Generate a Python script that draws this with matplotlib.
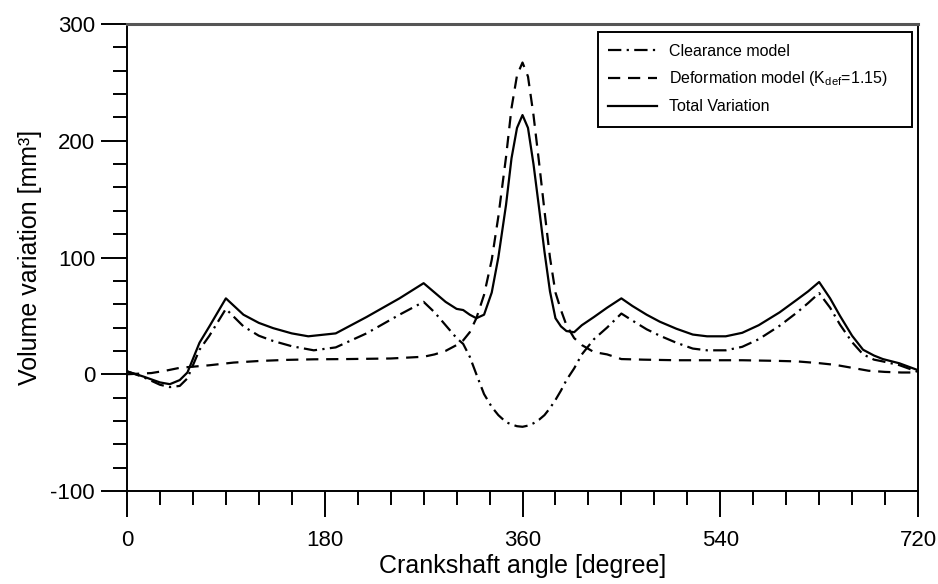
import matplotlib
matplotlib.use("Agg")
import matplotlib.pyplot as plt
from matplotlib.patches import Rectangle
from matplotlib.ticker import MultipleLocator

plt.rcParams['font.family'] = ['Liberation Sans', 'DejaVu Sans']
plt.rcParams['mathtext.fontset'] = 'custom'
plt.rcParams['mathtext.rm'] = 'Liberation Sans'
plt.rcParams['mathtext.it'] = 'Liberation Sans:italic'
plt.rcParams['axes.unicode_minus'] = False

# crank angle [deg] and volume variation [mm^3]
angle_cl = [0, 15, 30, 39, 48, 55, 66, 75, 90, 106, 120, 133, 150, 170, 190, 218, 248, 270,
            280, 290, 300, 306, 312, 318, 325, 332, 338, 345, 350, 355, 360, 365, 370, 375,
            380, 385, 390, 395, 400, 407, 414, 425, 437, 450, 460, 473, 485, 500, 515, 528,
            545, 560, 575, 594, 610, 620, 630, 640, 649, 660, 670, 680, 688, 703, 720]
clearance = [2.5, -2.5, -9, -11, -10, -3.5, 21, 33, 56, 41, 33, 28.5, 24, 20.5, 23, 35, 51, 62,
             53, 42, 31, 26, 15, 0, -17, -28, -35, -41, -43, -44.5, -45, -44, -42, -39,
             -35, -29, -22, -14, -5, 5, 17, 30, 40, 52, 46, 38.5, 33, 27, 22, 20.5,
             20.5, 23.5, 30, 41.5, 53, 61, 69.5, 57, 42.5, 27.5, 17, 12.5, 11, 7.8, 2]

angle_def = [0, 22, 35, 48, 75, 97, 121, 145, 170, 200, 240, 270, 280, 290, 300, 306, 312, 318,
             325, 332, 338, 345, 350, 355, 360, 365, 370, 375, 380, 385, 390, 395, 400, 407,
             414, 425, 437, 450, 470, 500, 530, 560, 590, 610, 630, 645, 660, 675, 690, 705, 720]
deformation = [0, 1, 3, 5.5, 7.7, 10, 11.4, 12.3, 12.8, 13, 13.5, 15, 17, 20, 25, 29, 36, 48,
               68, 98, 135, 186, 228, 256, 267, 255, 222, 182, 140, 100, 70, 55, 42, 31,
               25, 19, 17, 13, 12.5, 12, 12, 12, 11.5, 11, 9.5, 8, 5.5, 3, 2, 1.5, 1.5]

angle_tot = [0, 15, 30, 39, 48, 55, 66, 75, 90, 106, 120, 133, 150, 165, 190, 218, 248, 270,
             280, 290, 300, 306, 312, 318, 325, 332, 338, 345, 350, 355, 360, 365, 370, 375,
             380, 385, 390, 395, 400, 407, 414, 425, 437, 450, 460, 473, 485, 500, 515, 528,
             545, 560, 575, 594, 610, 620, 630, 640, 649, 660, 670, 680, 688, 703, 720]
total = [2.5, -2, -7, -8.5, -5, 1.5, 27, 41, 65, 51, 44, 39.5, 35, 32.5, 35, 49, 65, 78,
         70, 62, 56, 55, 51, 48, 51, 70, 100, 145, 185, 211, 222, 211, 180, 143,
         105, 71, 48, 41, 37, 36, 42, 49, 57, 65, 58.5, 51, 45, 39, 34, 32.5,
         32.5, 35.5, 42, 53, 64, 71, 79, 65, 50, 33, 21, 16, 13, 9.4, 3.5]

W, H = 938, 584
fig = plt.figure(figsize=(W / 100, H / 100), dpi=100)
ax = fig.add_axes([127 / W, 1 - 491 / H, 791 / W, 467 / H])

lw = 1.6
ax.plot(angle_cl, clearance, color='black', lw=lw, dashes=[6, 2.4, 1, 2.4],
        label='Clearance model')
ax.plot(angle_def, deformation, color='black', lw=lw, dashes=[5.5, 3.5],
        label=r'Deformation model (K$_{\mathrm{def}}$=1.15)')
ax.plot(angle_tot, total, color='black', lw=lw, label='Total Variation')

ax.set_xlim(0, 720)
ax.set_ylim(-100, 300)
ax.xaxis.set_major_locator(MultipleLocator(180))
ax.xaxis.set_minor_locator(MultipleLocator(30))
ax.yaxis.set_major_locator(MultipleLocator(100))
ax.yaxis.set_minor_locator(MultipleLocator(20))
ax.tick_params(which='major', direction='out', length=19, width=1.4, labelsize=16)
ax.tick_params(which='minor', direction='out', length=10, width=1.4)
ax.tick_params(axis='x', which='major', pad=9)
ax.tick_params(axis='y', which='major', pad=4)

for side in ['left', 'bottom', 'right']:
    ax.spines[side].set_linewidth(1.4)
ax.spines['top'].set_linewidth(2.2)
ax.spines['top'].set_color('#555555')

ax.set_xlabel('Crankshaft angle [degree]', fontsize=18, labelpad=2)
ax.set_ylabel('Volume variation [mm³]', fontsize=18)
ax.yaxis.set_label_coords(-0.108, 0.5)

# legend box drawn separately so the inner padding matches the original
fig.patches.append(Rectangle((598 / W, 1 - 127 / H), 314 / W, 95 / H,
                             transform=fig.transFigure, fill=False,
                             edgecolor='black', linewidth=1.4))
leg = ax.legend(loc='upper left', bbox_to_anchor=(598 / W, 1 - 34 / H),
                bbox_transform=fig.transFigure, fontsize=11.5, handlelength=3.1,
                frameon=False, borderaxespad=0, borderpad=0.6, labelspacing=0.68,
                handletextpad=0.75)

fig.savefig('out.png', dpi=100)
